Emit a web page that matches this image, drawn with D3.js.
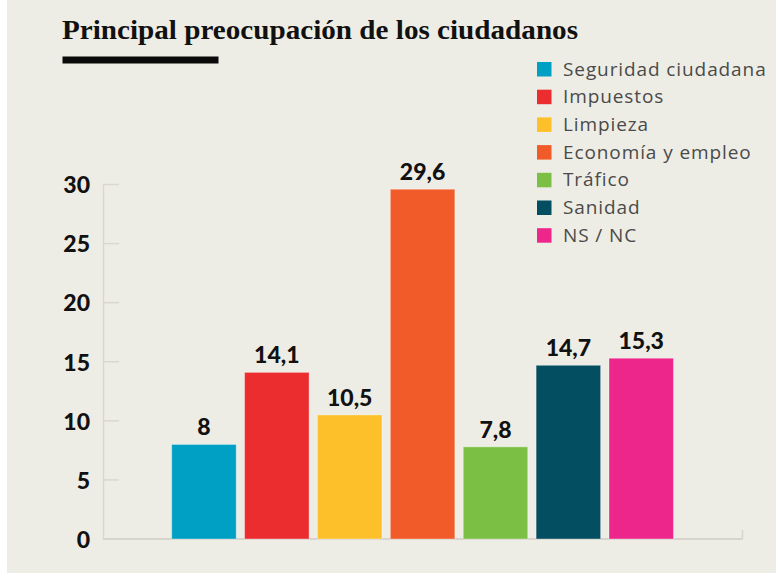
<!DOCTYPE html>
<html>
<head>
<meta charset="utf-8">
<script src="https://cdn.jsdelivr.net/npm/d3@7"></script>
<style>
  html, body { margin: 0; padding: 0; background: #ffffff; }
  svg { display: block; }
</style>
</head>
<body>
<svg id="chart" width="776" height="575"></svg>
<script>
const title = "Principal preocupación de los ciudadanos";
const categories = ["Seguridad ciudadana", "Impuestos", "Limpieza", "Economía y empleo", "Tráfico", "Sanidad", "NS / NC"];
const values = [8, 14.1, 10.5, 29.6, 7.8, 14.7, 15.3];
const valueLabels = ["8", "14,1", "10,5", "29,6", "7,8", "14,7", "15,3"];
const colors = ["#00a0c4", "#ec2d30", "#fdc02b", "#f05b29", "#7bbf45", "#034e60", "#ec268b"];
const yTicks = [0, 5, 10, 15, 20, 25, 30];

const svg = d3.select("#chart");
svg.append("rect").attr("x", 7).attr("y", 0).attr("width", 769).attr("height", 573).attr("fill", "#eeede5");

// Title
svg.append("text")
  .attr("x", 62).attr("y", 38.5)
  .attr("font-family", "'Liberation Serif', 'DejaVu Serif', serif")
  .attr("font-weight", "bold")
  .attr("font-size", 27)
  .attr("fill", "#111")
  .attr("textLength", 516)
  .attr("lengthAdjust", "spacingAndGlyphs")
  .text(title);
svg.append("rect").attr("x", 62.5).attr("y", 56.5).attr("width", 156).attr("height", 7).attr("fill", "#0a0a0a");

// Scales
const x = d3.scaleBand().domain(categories).range([171.7, 673.5]).paddingInner(0.115).paddingOuter(0);
const y = d3.scaleLinear().domain([0, 30]).range([539, 184.5]);

// Y axis
const yAxis = d3.axisLeft(y).tickValues(yTicks).tickSize(0).tickPadding(13);
const gy = svg.append("g").attr("transform", "translate(103,0)").call(yAxis);
gy.select(".domain").attr("stroke", "#d9d7cf").attr("stroke-width", 1.5);
gy.selectAll(".tick text")
  .attr("font-family", "Lato, 'Open Sans', sans-serif")
  .attr("font-weight", "900")
  .attr("font-size", 23)
  .attr("fill", "#111")
  .attr("dy", "0.36em");
// short tick marks to the right of the axis
svg.append("g").selectAll("line").data(yTicks.filter(d => d > 0)).join("line")
  .attr("x1", 103).attr("x2", 119)
  .attr("y1", d => y(d)).attr("y2", d => y(d))
  .attr("stroke", "#d9d7cf").attr("stroke-width", 1.5);

// X baseline
svg.append("line").attr("x1", 103).attr("x2", 742.5).attr("y1", y(0)).attr("y2", y(0))
  .attr("stroke", "#d6d4cc").attr("stroke-width", 2);
svg.append("line").attr("x1", 742.5).attr("x2", 742.5).attr("y1", y(0) - 9).attr("y2", y(0))
  .attr("stroke", "#d6d4cc").attr("stroke-width", 1.5);

// Bars
svg.append("g").selectAll("rect").data(categories).join("rect")
  .attr("x", d => x(d))
  .attr("y", (d, i) => y(values[i]))
  .attr("width", x.bandwidth())
  .attr("height", (d, i) => y(0) - y(values[i]))
  .attr("fill", (d, i) => colors[i])
  .attr("stroke", "rgba(255,255,255,0.35)")
  .attr("stroke-width", 1);

// Value labels
svg.append("g").selectAll("text").data(categories).join("text")
  .attr("x", d => x(d) + x.bandwidth() / 2)
  .attr("y", (d, i) => y(values[i]) - 9)
  .attr("text-anchor", "middle")
  .attr("font-family", "Lato, 'Open Sans', sans-serif")
  .attr("font-weight", "900")
  .attr("font-size", 23)
  .attr("fill", "#111")
  .text((d, i) => valueLabels[i]);

// Legend
const legend = svg.append("g").selectAll("g").data(categories).join("g")
  .attr("transform", (d, i) => `translate(537,${69 + i * 27.7})`);
legend.append("rect").attr("x", 0).attr("y", -7).attr("width", 14.5).attr("height", 14.5)
  .attr("fill", (d, i) => colors[i]);
legend.append("text")
  .attr("x", 26).attr("y", 0).attr("dy", "0.35em")
  .attr("font-family", "'Open Sans', 'Noto Sans', sans-serif")
  .attr("font-size", 19)
  .attr("letter-spacing", 0.9)
  .attr("fill", "#4a4a4a")
  .text(d => d);
</script>
</body>
</html>
